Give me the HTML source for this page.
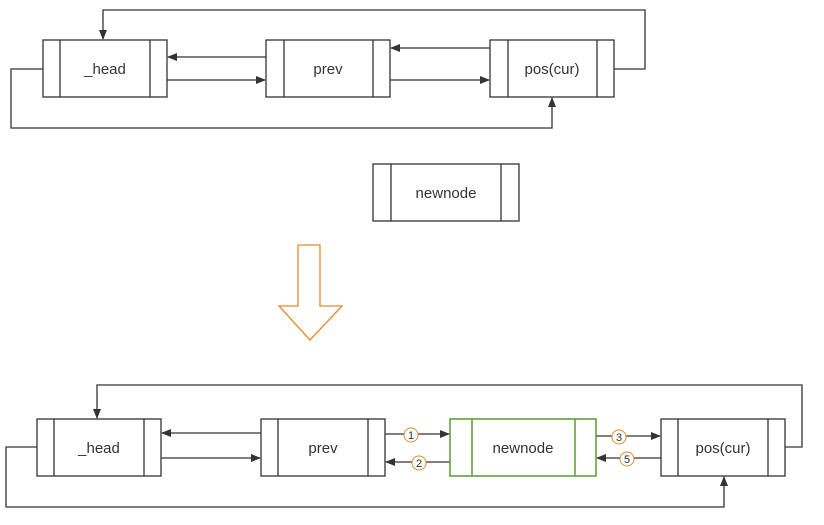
<!DOCTYPE html>
<html><head><style>body{margin:0;background:#fff}svg{display:block}</style></head><body>
<svg width="824" height="525" xmlns="http://www.w3.org/2000/svg" font-family="Liberation Sans, sans-serif">
<defs><marker id="a" markerWidth="10" markerHeight="8" refX="9" refY="4" orient="auto" markerUnits="userSpaceOnUse"><path d="M0,0L10,4L0,8z" fill="#333"/></marker></defs>
<g fill="none" stroke="#333" stroke-width="1.3">
<rect x="43" y="40" width="124" height="57"/><line x1="60" y1="40" x2="60" y2="97"/><line x1="150" y1="40" x2="150" y2="97"/>
<rect x="266" y="40" width="124" height="57"/><line x1="284" y1="40" x2="284" y2="97"/><line x1="373" y1="40" x2="373" y2="97"/>
<rect x="490" y="40" width="124" height="57"/><line x1="508" y1="40" x2="508" y2="97"/><line x1="597" y1="40" x2="597" y2="97"/>
<rect x="373" y="164" width="146" height="57"/><line x1="391" y1="164" x2="391" y2="221"/><line x1="501" y1="164" x2="501" y2="221"/>
<line x1="266" y1="57" x2="168" y2="57" marker-end="url(#a)"/>
<line x1="167" y1="80" x2="265" y2="80" marker-end="url(#a)"/>
<line x1="490" y1="48" x2="391" y2="48" marker-end="url(#a)"/>
<line x1="390" y1="80" x2="489" y2="80" marker-end="url(#a)"/>
<polyline points="614,69 645,69 645,10 103,10 103,39" marker-end="url(#a)"/>
<polyline points="43,69 11,69 11,128 552,128 552,98" marker-end="url(#a)"/>
<rect x="37" y="419" width="124" height="57"/><line x1="54" y1="419" x2="54" y2="476"/><line x1="144" y1="419" x2="144" y2="476"/>
<rect x="261" y="419" width="124" height="57"/><line x1="278" y1="419" x2="278" y2="476"/><line x1="368" y1="419" x2="368" y2="476"/>
<rect x="661" y="419" width="124" height="57"/><line x1="678" y1="419" x2="678" y2="476"/><line x1="768" y1="419" x2="768" y2="476"/>
<line x1="261" y1="433" x2="162" y2="433" marker-end="url(#a)"/>
<line x1="161" y1="458" x2="260" y2="458" marker-end="url(#a)"/>
<line x1="385" y1="434" x2="449" y2="434" marker-end="url(#a)"/>
<line x1="450" y1="462" x2="386" y2="462" marker-end="url(#a)"/>
<line x1="596" y1="436" x2="660" y2="436" marker-end="url(#a)"/>
<line x1="661" y1="458" x2="597" y2="458" marker-end="url(#a)"/>
<polyline points="785,447 802,447 802,385 97,385 97,418" marker-end="url(#a)"/>
<polyline points="37,447 6,447 6,507 724,507 724,477" marker-end="url(#a)"/>
</g>
<g fill="none" stroke="#5a9a2f" stroke-width="1.5"><rect x="450" y="419" width="146" height="57"/><line x1="472" y1="419" x2="472" y2="476"/><line x1="575" y1="419" x2="575" y2="476"/></g>
<polygon points="298,245 320,245 320,306 342,306 310,340 279,306 298,306" fill="#fff" stroke="#e8892c" stroke-width="1.3"/>
<g fill="#fff" stroke="#e8892c" stroke-width="1"><circle cx="411" cy="435" r="7"/><circle cx="419" cy="463" r="7"/><circle cx="619" cy="437" r="7"/><circle cx="627" cy="459" r="7"/></g>
<g font-size="11" fill="#333" text-anchor="middle"><text x="411" y="439">1</text><text x="419" y="467">2</text><text x="619" y="441">3</text><text x="627" y="463">5</text></g>
<g font-size="15" fill="#333" text-anchor="middle">
<text x="105" y="74">_head</text><text x="328" y="74">prev</text><text x="552" y="74">pos(cur)</text><text x="446" y="198">newnode</text>
<text x="99" y="453">_head</text><text x="323" y="453">prev</text><text x="523" y="453">newnode</text><text x="723" y="453">pos(cur)</text>
</g>
</svg>
</body></html>
